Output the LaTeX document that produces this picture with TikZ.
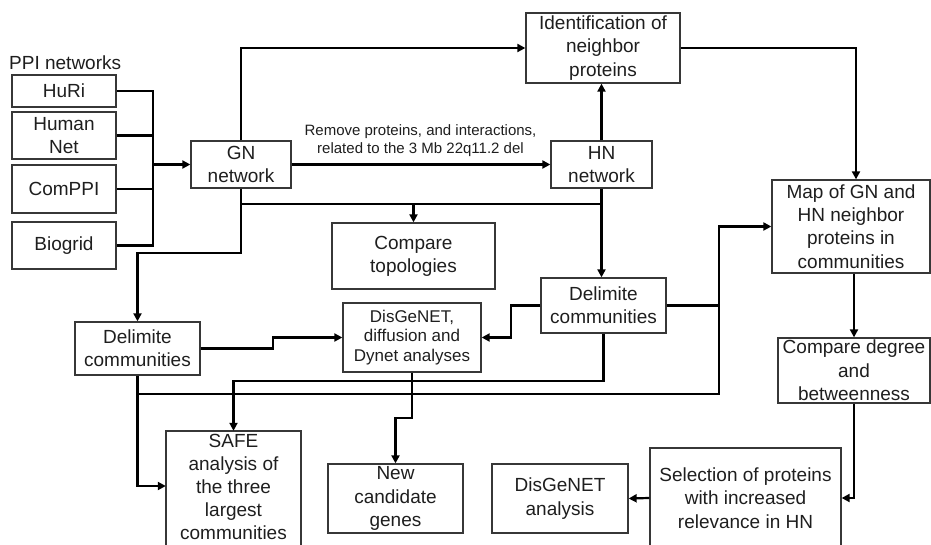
\documentclass[tikz,border=0pt]{standalone}
\usepackage{fontspec}
\setmainfont{Liberation Sans}
\usetikzlibrary{arrows.meta,calc}
\definecolor{boxc}{RGB}{55,55,55}
\definecolor{txtc}{RGB}{30,30,30}
\begin{document}
\begin{tikzpicture}[x=1pt,y=-1pt,
  boxline/.style={draw=boxc,line width=1.3pt},
  box/.style={boxline,inner sep=0pt,align=center,text=txtc,font=\fontsize{19}{23.3}\selectfont},
  conn/.style={line width=2.2pt,black},
  arr/.style={conn,-{Triangle[length=8pt,width=8pt]}}]
\clip (0,0) rectangle (931,545);
\node[font=\fontsize{19}{23}\selectfont,text=txtc,anchor=west,inner sep=0pt] (ppi) at (9,63) {PPI networks};
\node[box,minimum width=104pt,minimum height=32pt] (huri) at (64,91) {HuRi};
\node[box,minimum width=104pt,minimum height=47pt] (human) at (64,135.5) {Human\\Net};
\node[box,minimum width=104pt,minimum height=48pt] (comppi) at (64,189) {ComPPI};
\node[box,minimum width=104pt,minimum height=47pt] (biogrid) at (64,245.5) {Biogrid};
\node[box,minimum width=100pt,minimum height=47pt] (gn) at (241,164.5) {GN\\network};
\node[box,minimum width=154pt,minimum height=70pt] (ident) at (603,48) {Identification of\\neighbor\\proteins};
\node[box,minimum width=101pt,minimum height=47pt] (hn) at (601.5,164.5) {HN\\network};
\node[box,minimum width=158pt,minimum height=93pt] (map) at (851,226.5) {Map of GN and\\HN neighbor\\proteins in\\communities};
\node[box,minimum width=163pt,minimum height=66pt] (topo) at (413.5,256) {Compare\\topologies};
\node[box,minimum width=125pt,minimum height=55pt] (dr) at (603.5,305.5) {Delimite\\communities};
\node[box,minimum width=125pt,minimum height=53pt] (dl) at (137.5,348.5) {Delimite\\communities};
\node[box,minimum width=138pt,minimum height=69pt,font=\fontsize{17}{19.5}\selectfont] (dd) at (412,337.5) {DisGeNET,\\diffusion and\\Dynet analyses};
\node[inner sep=0pt,align=center,text=txtc,minimum width=135pt,minimum height=112pt,font=\fontsize{19}{22.8}\selectfont] (safe) at (233.5,487) {SAFE\\analysis of\\the three\\largest\\communities};
\draw[draw=boxc,line width=1.6pt] ([yshift=-10pt]safe.south west) -- (safe.north west) -- (safe.north east) -- ([yshift=-10pt]safe.south east);
\node[box,minimum width=135pt,minimum height=69pt] (newc) at (395.5,498.5) {New\\candidate\\genes};
\node[box,minimum width=136pt,minimum height=69pt] (dga) at (560,498.5) {DisGeNET\\analysis};
\node[box,minimum width=191pt,minimum height=100pt] (sel) at (745.5,498) {Selection of proteins\\with increased\\relevance in HN};
\node[box,minimum width=152pt,minimum height=65pt] (cdb) at (854,370.5) {Compare degree\\and\\betweenness};
\node[font=\fontsize{15}{18}\selectfont,align=center,text=txtc,inner sep=0pt] (rm) at (420.5,141) {Remove proteins, and interactions,\\related to the 3 Mb 22q11.2 del};
% PPI bus
\coordinate (bx) at (153,165);
\draw[conn] (huri.east) -| (bx |- biogrid.east) -- (biogrid.east);
\draw[conn] (human.east) -- (bx |- human.east);
\draw[conn] (comppi.east) -- (bx |- comppi.east);
\draw[arr,line width=3.5pt] (bx |- gn.west) -- (gn.west);
% top part
\draw[arr] (gn.north) |- (ident.west);
\draw[arr] (gn.east) -- (hn.west);
\draw[arr] (hn.north) -- (hn.north |- ident.south);
\draw[arr] (ident.east) -| ([xshift=5pt]map.north);
% GN down
\draw[arr] (gn.south) -- ++(0,64.5) -| (dl.north);
\coordinate (j1) at ($(gn.south)+(0,15)$);
\draw[conn] (j1) -- (j1 -| hn.south);
\draw[arr] (j1 -| topo.north) -- (topo.north);
\draw[arr] (hn.south) -- (hn.south |- dr.north);
% communities
\draw[arr] (dl.east) -- ++(72,0) |- (dd.west);
\draw[arr] (dr.west) -- ++(-29,0) |- (dd.east);
\draw[arr] (dr.south) -- ++(0,47) -| (safe.north);
\draw[arr] (dl.south) |- ([yshift=1pt]safe.west);
\coordinate (bus2) at (719,394);
\draw[arr] (dl.south |- bus2) -- (bus2) |- (map.west);
\draw[conn] (dr.east) -- (bus2 |- dr.east);
\draw[arr] (dd.south) -- ++(0,45) -| (newc.north);
% right column
\draw[arr] (cdb.north |- map.south) -- (cdb.north);
\draw[arr] (cdb.south) |- (sel.east);
\draw[arr] (sel.west) -- (dga.east);
\end{tikzpicture}
\end{document}
